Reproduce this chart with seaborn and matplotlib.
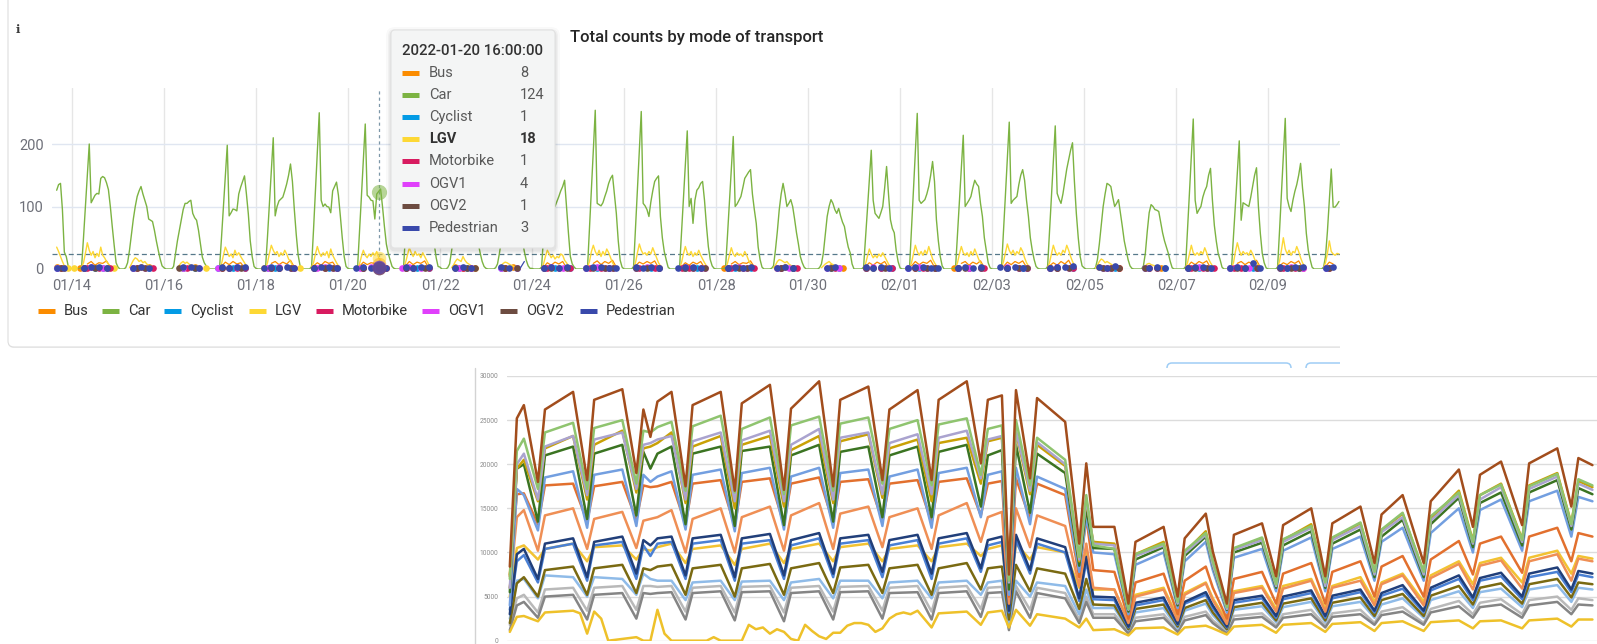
import numpy as np
import pandas as pd
import matplotlib
matplotlib.use("Agg")
import matplotlib.pyplot as plt
import matplotlib.dates as mdates
from matplotlib.patches import FancyBboxPatch, Rectangle
import seaborn as sns

na = None

# ---------------- top chart: hourly counts per mode ----------------
modes = ["Bus", "Car", "Cyclist", "LGV", "Motorbike", "OGV1", "OGV2", "Pedestrian"]
mode_colors = ["#fb8c00", "#7cb342", "#039be5", "#fdd835", "#d81b60", "#e040fb", "#6d4c41", "#3949ab"]

first_day = "2022-01-13"
n_days = 29
hover_time = "2022-01-20 16:00"
hover_values = [8, 124, 1, 18, 1, 4, 1, 3]
avg_line = 24

# Car, one row of 24 hourly values per day (01/13 .. 02/10)
car_by_day = [
    [na] * 16 + [126, 135, 137, 95, 27, 20, 5, 1],
    [0, 0, 0, 0, 0, 3, 50, 100, 150, 200, 106, 112, 118, 121, 120, 145, 148, 146, 138, 127, 100, 68, 38, 10],
    [3, 0, 0, 0, 2, 10, 30, 55, 80, 100, 116, 125, 132, 120, 110, 100, 80, 78, 76, 62, 45, 30, 16, 5],
    [2, 0, 0, 0, 0, 4, 25, 45, 62, 80, 95, 105, 105, 108, 110, 89, 82, 78, 62, 40, 19, 10, 5, 1],
    [0, 0, 0, 0, 0, 3, 50, 100, 150, 198, 85, 90, 96, 95, 93, 120, 131, 140, 149, 120, 88, 45, 20, 4],
    [1, 0, 0, 0, 0, 3, 52, 105, 158, 210, 85, 100, 109, 112, 115, 125, 136, 150, 168, 140, 95, 55, 22, 5],
    [1, 0, 0, 0, 0, 4, 62, 125, 188, 250, 110, 100, 104, 100, 99, 90, 125, 132, 139, 118, 85, 50, 20, 4],
    [1, 0, 0, 0, 0, 3, 58, 116, 175, 232, 118, 115, 110, 109, 80, 120, 124, 128, 100, 68, 40, 25, 14, 4],
    [1, 0, 0, 0, 0, 3, 55, 110, 165, 220, 112, 108, 110, 115, 120, 135, 145, 150, 140, 110, 75, 40, 18, 4],
    [3, 0, 0, 0, 2, 8, 28, 50, 75, 95, 110, 120, 118, 112, 105, 98, 88, 80, 70, 55, 40, 25, 12, 4],
    [1, 0, 0, 0, 0, 2, 8, 25, 45, 65, 80, 92, 98, 100, 95, 88, 80, 72, 60, 45, 28, 14, 5, 1],
    [1, 0, 0, 0, 0, 3, 50, 100, 150, 200, 105, 100, 100, 108, 116, 125, 132, 142, 100, 58, 20, 8, 3, 0],
    [0, 0, 0, 0, 0, 4, 65, 128, 190, 254, 105, 103, 101, 106, 116, 125, 137, 145, 150, 120, 89, 45, 14, 3],
    [0, 0, 0, 0, 0, 4, 64, 127, 190, 252, 105, 101, 95, 84, 107, 125, 140, 145, 149, 84, 50, 28, 15, 3],
    [0, 0, 0, 0, 0, 3, 56, 112, 168, 221, 100, 113, 73, 110, 126, 130, 137, 140, 110, 70, 36, 15, 5, 1],
    [0, 0, 0, 0, 0, 3, 54, 108, 160, 212, 100, 104, 110, 116, 130, 145, 150, 155, 159, 120, 95, 73, 35, 15],
    [3, 0, 0, 0, 0, 1, 5, 30, 60, 95, 120, 137, 120, 100, 105, 111, 100, 80, 58, 40, 20, 10, 3, 0],
    [0, 0, 0, 0, 0, 0, 2, 8, 25, 55, 84, 100, 111, 105, 95, 89, 97, 85, 75, 68, 50, 35, 26, 8],
    [0, 0, 0, 0, 0, 3, 48, 95, 143, 190, 110, 89, 85, 81, 90, 100, 130, 164, 120, 79, 65, 58, 30, 12],
    [2, 0, 0, 0, 0, 4, 63, 125, 187, 249, 110, 105, 108, 111, 120, 132, 150, 172, 140, 79, 45, 20, 5, 0],
    [0, 0, 0, 0, 0, 3, 55, 108, 160, 214, 100, 105, 110, 116, 130, 142, 136, 132, 105, 84, 50, 30, 10, 2],
    [0, 0, 0, 0, 0, 4, 60, 118, 176, 235, 105, 110, 113, 116, 135, 150, 159, 142, 110, 84, 50, 30, 15, 4],
    [1, 0, 0, 0, 0, 4, 58, 115, 172, 229, 121, 112, 105, 120, 140, 160, 175, 190, 202, 140, 89, 50, 20, 5],
    [2, 0, 0, 0, 0, 0, 2, 15, 40, 70, 100, 120, 137, 135, 132, 115, 100, 105, 111, 90, 68, 45, 30, 15],
    [5, 1, 0, 0, 0, 0, 0, 5, 25, 60, 90, 103, 100, 95, 94, 92, 75, 58, 45, 35, 25, 12, 2, 0],
    [0, 0, 0, 0, 0, 4, 61, 121, 180, 240, 110, 89, 95, 100, 115, 125, 132, 150, 161, 110, 70, 45, 25, 15],
    [3, 0, 0, 0, 0, 3, 52, 103, 154, 205, 78, 106, 104, 102, 100, 115, 132, 150, 162, 100, 57, 25, 10, 2],
    [0, 0, 0, 0, 0, 3, 60, 121, 181, 241, 113, 100, 92, 110, 124, 135, 150, 169, 130, 100, 57, 30, 15, 3],
    [0, 0, 0, 0, 0, 3, 20, 60, 110, 160, 99, 99, 103, 108] + [na] * 10,
]

lgv_by_day = [
    [na] * 16 + [35, 28, 20, 12, 5, na, 1, na],
    [na, 1, na, na, na, 3, 10, 25, 42, 30, 22, 28, 18, 25, 20, 35, 22, 18, 12, 8, 4, na, 1, na],
    [na, na, na, na, na, na, 2, 8, 14, 18, 16, 12, 14, 10, 12, 8, 6, 4, 2, na, na, na, na, na],
    [na, na, na, na, na, na, na, 2, 6, 10, 12, 9, 11, 8, 6, 4, 2, na, na, na, na, na, 1, na],
    [na, na, na, na, na, 2, 8, 22, 35, 28, 20, 24, 18, 30, 22, 26, 20, 15, 10, 5, 2, na, na, na],
    [na, na, na, na, na, 2, 10, 25, 38, 30, 24, 28, 20, 26, 22, 30, 24, 16, 12, 6, 2, na, na, 1],
    [na, na, na, na, na, 3, 10, 24, 36, 26, 20, 26, 22, 28, 18, 32, 22, 16, 10, 5, 2, na, na, na],
    [na, na, na, na, na, 2, 8, 20, 30, 22, 18, 24, 20, 26, 22, 28, 18, 14, 10, 5, 2, na, na, na],
    [na, na, na, na, na, 2, 10, 22, 34, 26, 20, 28, 22, 24, 18, 26, 20, 14, 8, 4, na, na, na, na],
    [na, na, na, na, na, na, 2, 6, 12, 16, 14, 12, 20, 14, 10, 8, 6, 4, 2, na, na, na, na, na],
    [na, na, na, na, na, na, na, 2, 6, 9, 11, 10, 8, 6, 5, 3, 2, na, na, na, na, na, na, na],
    [na, na, na, na, na, 2, 8, 20, 30, 24, 18, 22, 16, 20, 18, 24, 22, 14, 10, 5, 2, na, na, na],
    [na, na, na, na, na, 3, 12, 28, 38, 28, 22, 30, 20, 28, 22, 32, 26, 18, 10, 5, 2, na, na, na],
    [na, na, na, na, na, 3, 10, 26, 40, 30, 24, 26, 22, 28, 24, 34, 26, 18, 10, 5, 2, na, na, na],
    [na, na, na, na, na, 2, 10, 24, 36, 26, 22, 28, 20, 26, 22, 30, 22, 16, 10, 5, 2, na, na, na],
    [na, na, na, na, na, 2, 9, 22, 34, 24, 20, 26, 22, 24, 20, 28, 22, 14, 8, 4, na, na, na, na],
    [na, na, na, na, na, na, 2, 6, 12, 15, 14, 12, 10, 12, 8, 6, 4, 2, na, na, na, na, na, na],
    [na, na, na, na, na, na, na, 2, 5, 8, 10, 12, 9, 7, 5, 3, na, na, na, na, na, na, na, na],
    [na, na, na, na, na, 2, 8, 20, 32, 24, 18, 22, 18, 24, 20, 26, 20, 14, 8, 4, na, na, na, na],
    [na, na, na, na, na, 3, 10, 24, 38, 28, 22, 28, 22, 30, 24, 36, 26, 16, 10, 5, 2, na, na, na],
    [na, na, na, na, na, 2, 10, 24, 36, 26, 22, 26, 20, 28, 22, 32, 24, 16, 10, 5, 2, na, na, na],
    [na, na, na, na, na, 3, 12, 26, 40, 30, 24, 30, 22, 28, 24, 34, 28, 18, 10, 5, 2, na, na, na],
    [na, na, na, na, na, 2, 10, 24, 38, 28, 22, 26, 22, 30, 26, 38, 30, 20, 12, 6, 2, na, na, na],
    [na, na, na, na, na, na, 2, 6, 12, 16, 14, 10, 12, 10, 8, 6, 4, 2, na, na, na, na, na, na],
    [na, na, na, na, na, na, na, 2, 5, 8, 9, 7, 6, 5, 3, 2, na, na, na, na, na, na, na, na],
    [na, na, na, na, na, 2, 10, 24, 38, 26, 22, 26, 22, 28, 24, 34, 26, 16, 10, 5, 2, na, na, na],
    [na, na, na, na, na, 3, 10, 28, 42, 30, 22, 28, 24, 26, 22, 30, 24, 16, 10, 5, na, na, na, na],
    [na, na, na, na, na, 3, 12, 30, 50, 32, 24, 30, 22, 28, 26, 36, 28, 18, 10, 5, 2, na, na, na],
    [na, na, na, na, na, 2, 10, 25, 45, 28, 24, 22, 25, 24] + [na] * 10,
]

# sparse modes, 2-hourly, one 12-char block per day ('.' = no data, base-36 digit = count)
bus_2h = ["........4.1.", "..1.8c6a9d3.", "....2.4.3...", ".....2..3...", "...4b7c8a2..",
          "..1.9c7b8e3.", "...5a6c9b2..", "...4b7a98.1.", "...5c7b9d2..", "....3.2..1..",
          ".....2.3....", "...3a6b8c2..", "..1.9d7c9e3.", "...5b8c9d2..", "...4a6b8c2..",
          "..1.8c7a9d3.", "....2.3.2...", "......3..2..", "...4a6b8c2..", "...5c7b9e3..",
          "..1.9c6b8d2.", "...4b7c9d3..", "...5a6c8e2..", "....3..2.1..", ".....2..2...",
          "...4b7c9d2..", "..1.9c7b8e3.", "...5a7c9d2..", "...4b8......"]
cyclist_2h = ["........1...", "...1..2.1...", "....1...1...", ".....1..2...", "..1...1..1..",
              "...1.2...1..", "...1...2.1..", "....1...1...", "...2..1..1..", ".....1.1....",
              "....1...1...", "...1..2...1.", "..1..1..2...", "...1...1.1..", "....2..1....",
              "...1.1...2..", ".....1..1...", "......1.1...", "...1...2..1.", "..1..2...1..",
              "...1..1..1..", "....1...2...", "...1.1...1..", ".....1..1...", "....1....1..",
              "...2..1..1..", "..1...1.2...", "...1.2..1...", "...1........"]
motorbike_2h = [".........1..", "....1..1..1.", ".....1...1..", "......1.....", "...1...1.1..",
                "....1.1...1.", "...1..1..1..", "....1...1.1.", "...1.1...1..", "......1.1...",
                ".....1......", "....1..1..1.", "...1..1.1...", "....1...1...", "...1.1..1...",
                "....1..1..1.", ".....1...1..", ".......1....", "...1...1..1.", "....1.1..1..",
                "...1..1...1.", "....1..1.1..", "...1.1...1..", "......1..1..", ".....1......",
                "....1..1..1.", "...1.1...1..", "....1..1.1..", "....1......."]
ogv1_2h = ["........2...", "...1.3..2...", "....1..1....", ".....1...1..", "..1..2.3....",
           "...2..3..1..", "....2.3.1...", "...2..3.4...", "..1.3..2....", ".....1..1...",
           "....1...1...", "...2.3..2...", "..1..3.2.1..", "...2..3..1..", "....3.2..1..",
           "...2..3.1...", "....1..1....", ".....1..1...", "...2.3...1..", "..1..3.2....",
           "...2..2..1..", "....3..2.1..", "...2.3..1...", ".....1.1....", "....1..1....",
           "...2..3.2...", "..1.3..2.1..", "...2..3..1..", "...1........"]
ogv2_2h = [".........1..", "...1..2..1..", ".....1.1....", "....1...1...", "...2.1..1...",
           "....1.2..1..", "...1..1.2...", "....2...1...", "...1.2..1...", "....1..1.1..",
           ".....1..1...", "...1.2...1..", "....2..1.1..", "...1..2..1..", "....1.1..1..",
           "...2..1.1...", ".....1..1...", "......1.....", "...1.2..1...", "....1..2.1..",
           "...1.1...1..", "....2..1.1..", "...1.2..1...", ".....1.1.1..", "....1..1....",
           "...1.2..1...", "....1.2..1..", "...2..1.1...", "....1......."]
pedestrian_2h = ["........2.1.", "...2.3.4.2..", "....2.3.2...", ".....3.4.2..", "...3.2.4.3..",
                 "..2.3.2.4.2.", "...2.4.3.2..", "..2.3.2.3.2.", "...3.2.4.3..", "....2.3.2...",
                 "....3.2..2c.", "...2.3.2.4..", "..2.4.3.2.2.", "...3.2.4.2..", "..2.3.3.2...",
                 "...2.4.2.3..", "....2.3.2...", ".....2.3....", "...3.2.3.2..", "..2.3.4.2.2.",
                 "...2.3.2.3..", "..3.2.4.2...", "...2.4.3.5..", "....3.2.5...", ".....2.3.2..",
                 "...2.3.4.2..", "..2.3.2.a.2.", "...3.2.4.3..", "...2.3......"]

# ---------------- lower (pasted) chart: daily totals, hundreds ----------------
low_days = [0, 1, 2, 4, 5, 9, 11, 12, 16, 18, 19, 20, 21, 23, 25, 26, 30, 32, 33, 37,
            39, 40, 44, 46, 47, 51, 53, 54, 58, 60, 61, 65, 67, 68, 70, 71, 72, 74, 75, 79,
            81, 82, 83, 86, 88, 89, 93, 95, 96, 99, 100, 102, 103, 107, 109, 110, 114, 116, 117, 121,
            123, 124, 127, 130, 131, 135, 137, 138, 141, 144, 145, 149, 151, 152, 154]
brown = [84, 252, 267, 180, 262, 282, 182, 273, 285, 190, 262, 231, 271, 282, 175, 267, 282, 170, 269, 290,
         171, 263, 294, 175, 273, 288, 182, 262, 284, 182, 273, 294, 201, 273, 278, 75, 284, 184, 275, 248,
         110, 201, 129, 129, 42, 112, 129, 50, 116, 144, 101, 42, 120, 133, 73, 131, 150, 73, 133, 152,
         88, 143, 165, 88, 158, 194, 129, 188, 203, 131, 201, 218, 152, 207, 199]
lightgreen = [70, 215, 229, 172, 236, 247, 172, 241, 250, 178, 238, 236, 242, 248, 170, 243, 255, 168, 240, 253,
              166, 244, 254, 170, 246, 253, 178, 240, 250, 176, 245, 252, 188, 240, 244, 68, 250, 176, 230, 205,
              95, 165, 108, 104, 36, 98, 110, 44, 102, 122, 90, 38, 105, 117, 64, 115, 130, 66, 117, 134,
              78, 126, 145, 78, 141, 168, 112, 165, 177, 114, 175, 189, 132, 183, 176]
lavender = [60, 200, 212, 160, 220, 232, 165, 228, 236, 172, 222, 224, 228, 232, 160, 226, 236, 158, 227, 238,
            158, 222, 240, 160, 230, 236, 166, 224, 234, 166, 230, 238, 184, 228, 232, 66, 238, 170, 225, 200,
            92, 160, 110, 108, 35, 96, 108, 42, 99, 120, 86, 36, 103, 114, 62, 112, 128, 62, 114, 130,
            75, 123, 140, 75, 136, 165, 110, 160, 174, 112, 172, 186, 130, 178, 171]
gold = [75, 195, 205, 158, 218, 232, 160, 222, 238, 168, 218, 220, 224, 236, 156, 220, 232, 150, 222, 232,
        152, 216, 232, 156, 226, 234, 162, 218, 228, 158, 224, 230, 178, 226, 230, 70, 236, 166, 222, 198,
        90, 158, 112, 110, 36, 98, 112, 44, 100, 124, 88, 37, 104, 116, 64, 114, 132, 64, 116, 133,
        77, 125, 144, 77, 138, 170, 113, 165, 178, 115, 176, 190, 133, 181, 174]
darkgreen = [55, 195, 200, 135, 210, 220, 138, 212, 222, 142, 214, 195, 212, 220, 132, 212, 220, 130, 215, 220,
             131, 210, 222, 135, 214, 220, 140, 210, 220, 140, 214, 222, 152, 210, 216, 58, 222, 145, 212, 190,
             85, 150, 105, 104, 33, 92, 106, 40, 96, 118, 85, 35, 100, 111, 60, 108, 124, 60, 110, 126,
             72, 118, 137, 72, 132, 162, 106, 156, 168, 108, 168, 182, 126, 173, 166]
cornflower = [40, 172, 165, 125, 185, 192, 128, 188, 194, 130, 188, 180, 186, 192, 126, 188, 194, 124, 190, 196,
              126, 186, 196, 128, 190, 194, 130, 186, 194, 128, 190, 196, 140, 188, 192, 52, 196, 132, 186, 172,
              78, 140, 100, 98, 30, 86, 100, 37, 90, 112, 80, 32, 94, 104, 56, 102, 117, 56, 104, 118,
              68, 112, 128, 68, 122, 150, 100, 148, 160, 102, 158, 170, 118, 163, 158]
orangered = [73, 166, 167, 132, 176, 178, 135, 175, 180, 137, 176, 174, 175, 180, 132, 178, 182, 130, 180, 184,
             132, 178, 185, 134, 180, 183, 136, 178, 182, 134, 180, 184, 142, 178, 181, 50, 184, 138, 178, 165,
             72, 140, 80, 78, 25, 66, 76, 30, 68, 84, 60, 25, 70, 78, 42, 76, 88, 42, 78, 90,
             50, 84, 96, 50, 92, 113, 75, 110, 118, 77, 118, 128, 90, 122, 118]
orange = [60, 140, 148, 102, 142, 150, 104, 138, 146, 105, 136, 138, 140, 148, 100, 138, 150, 100, 140, 152,
          102, 142, 156, 104, 144, 152, 106, 140, 150, 104, 142, 156, 112, 140, 146, 42, 150, 106, 142, 130,
          62, 110, 60, 58, 20, 50, 58, 23, 52, 65, 46, 19, 54, 60, 33, 59, 68, 33, 60, 68,
          40, 64, 74, 40, 71, 87, 58, 85, 91, 59, 90, 98, 68, 93, 90]
navy = [30, 98, 104, 70, 110, 116, 72, 112, 118, 76, 114, 108, 116, 118, 74, 116, 120, 72, 116, 121,
        74, 114, 122, 76, 116, 120, 78, 114, 120, 76, 116, 122, 82, 114, 118, 34, 120, 80, 116, 106,
        48, 95, 50, 49, 16, 43, 49, 19, 44, 55, 40, 16, 46, 51, 28, 50, 57, 28, 51, 58,
        34, 54, 63, 34, 60, 74, 49, 71, 77, 50, 76, 83, 58, 79, 76]
blue = [35, 90, 97, 66, 104, 110, 68, 108, 112, 70, 108, 96, 110, 112, 70, 110, 114, 68, 110, 114,
        70, 108, 116, 72, 110, 114, 72, 108, 114, 70, 110, 116, 78, 108, 112, 32, 114, 76, 110, 100,
        45, 90, 47, 46, 15, 40, 46, 18, 42, 52, 37, 15, 43, 48, 26, 47, 54, 26, 48, 55,
        32, 51, 59, 32, 57, 70, 46, 68, 73, 47, 72, 78, 55, 75, 72]
yellow = [50, 105, 108, 92, 104, 110, 90, 106, 108, 92, 104, 102, 106, 110, 88, 104, 108, 86, 104, 110,
          88, 104, 110, 90, 106, 110, 90, 104, 108, 90, 106, 110, 96, 104, 108, 40, 110, 92, 106, 100,
          60, 100, 58, 58, 22, 52, 60, 26, 54, 66, 48, 22, 56, 62, 36, 62, 70, 36, 62, 72,
          44, 66, 76, 44, 74, 90, 64, 88, 94, 66, 94, 102, 76, 96, 93]
olive = [20, 65, 72, 50, 80, 84, 52, 82, 86, 54, 82, 80, 84, 86, 52, 82, 86, 50, 82, 87,
         52, 82, 88, 54, 83, 86, 54, 82, 86, 52, 82, 88, 58, 82, 84, 24, 86, 56, 82, 76,
         36, 70, 41, 40, 13, 36, 41, 16, 37, 46, 32, 13, 38, 43, 23, 42, 48, 23, 43, 49,
         28, 46, 53, 28, 51, 62, 41, 60, 65, 42, 64, 70, 49, 66, 64]
lightblue = [25, 68, 70, 48, 74, 72, 50, 72, 70, 52, 76, 70, 68, 68, 46, 66, 68, 46, 67, 68,
             46, 66, 70, 48, 68, 68, 48, 66, 68, 48, 66, 68, 52, 66, 68, 20, 68, 50, 66, 62,
             30, 58, 37, 37, 12, 32, 37, 14, 34, 42, 29, 12, 35, 39, 21, 38, 44, 21, 39, 44,
             26, 41, 48, 26, 46, 56, 37, 55, 59, 38, 58, 63, 44, 60, 58]
grey = [12, 40, 44, 26, 50, 52, 24, 52, 54, 25, 54, 53, 54, 55, 24, 54, 56, 23, 55, 56,
        22, 54, 56, 24, 55, 56, 25, 54, 55, 24, 54, 56, 27, 54, 55, 12, 56, 26, 54, 48,
        20, 44, 26, 26, 8, 22, 26, 10, 23, 29, 20, 8, 24, 27, 15, 26, 30, 15, 27, 30,
        18, 29, 33, 18, 32, 39, 26, 38, 41, 26, 40, 44, 30, 41, 40]
lightgrey = [18, 48, 52, 32, 58, 60, 34, 60, 62, 35, 62, 62, 61, 62, 33, 60, 62, 32, 61, 62,
             32, 60, 62, 33, 61, 62, 34, 60, 62, 33, 60, 62, 36, 60, 61, 16, 62, 35, 60, 54,
             24, 50, 30, 30, 10, 26, 30, 11, 27, 33, 23, 10, 28, 31, 17, 30, 35, 17, 31, 35,
             20, 33, 38, 20, 36, 45, 30, 43, 47, 30, 46, 50, 35, 48, 46]
low_yellow_days = [0, 1, 2, 4, 5, 9, 10, 11, 12, 13, 14, 18, 19, 20, 21, 22, 23, 28, 29, 30,
                   33, 34, 35, 36, 37, 38, 39, 40, 41, 42, 43, 44, 45, 46, 47, 48, 49, 50, 51, 52,
                   53, 54, 55, 56, 57, 58, 60, 61, 65, 67, 68, 70, 71, 72, 74, 75, 79, 81, 82, 83,
                   86, 88, 89, 93, 95, 96, 99, 100, 102, 103, 107, 109, 110, 114, 116, 117, 121, 123, 124, 127,
                   130, 131, 135, 137, 138, 141, 144, 145, 149, 151, 152, 154]
low_yellow = [10, 27, 28, 22, 32, 34, 31, 8, 33, 25, 0, 4, 0, 0, 35, 8, 0, 0, 4, 0,
              0, 18, 13, 15, 8, 13, 10, 2, 0, 18, 11, 5, 2, 9, 9, 17, 20, 20, 18, 10,
              14, 25, 30, 32, 30, 34, 15, 31, 33, 18, 32, 34, 15, 35, 17, 30, 25, 15, 25, 12,
              13, 6, 14, 15, 7, 15, 17, 14, 7, 16, 18, 9, 18, 20, 10, 19, 21, 11, 20, 22,
              11, 21, 23, 14, 22, 23, 14, 23, 25, 16, 24, 24]

# ---------------- figure ----------------
W, H = 1597, 644
sns.set_style("white")
plt.rcParams["font.family"] = ["Roboto", "DejaVu Sans"]
fig = plt.figure(figsize=(W / 100, H / 100), dpi=100)


def px_axes(left, top, right, bottom, z):
    return fig.add_axes([left / W, 1 - bottom / H, (right - left) / W, (bottom - top) / H], zorder=z)


def fit(row, n):
    row = list(row)[:n]
    return row + [na] * (n - len(row))


def decode(blocks):
    out = []
    for b in blocks:
        b = b.ljust(12, ".")[:12]
        out += [np.nan if ch == "." else int(ch, 36) for ch in b]
    return np.array(out, dtype=float)


hours = pd.date_range(first_day, periods=n_days * 24, freq="h")
two_hours = pd.date_range(first_day, periods=n_days * 12, freq="2h")
t_h = mdates.date2num(hours.to_pydatetime())
t_2h = mdates.date2num(two_hours.to_pydatetime())
car = np.array(sum([fit(r, 24) for r in car_by_day], []), dtype=float)
lgv = np.array(sum([fit(r, 24) for r in lgv_by_day], []), dtype=float)

# background page: card, title, legend, buttons
bg = px_axes(0, 0, W, H, 0)
bg.set_xlim(0, W)
bg.set_ylim(H, 0)
bg.axis("off")
bg.add_patch(FancyBboxPatch((8, -20), 1420, 368, boxstyle="round,pad=0,rounding_size=6",
                            fc="#eeeeee", ec="none"))
bg.add_patch(FancyBboxPatch((8, -20), 1420, 367, boxstyle="round,pad=0,rounding_size=6",
                            fc="white", ec="#dedede", lw=0.8))
bg.text(697, 37, "Total counts by mode of transport", ha="center", va="center",
        fontsize=12, fontweight="medium", color="#262626")
bg.text(18, 29, "ℹ", ha="center", va="center", fontsize=8.5, fontweight="bold",
        family=["DejaVu Serif", "DejaVu Sans"], color="#3a3a3a")
leg_x = [38, 102, 164, 249, 316, 422, 500, 580]
for name, col, x0 in zip(modes, mode_colors, leg_x):
    bg.plot([x0, x0 + 17], [311, 311], color=col, lw=3.6, solid_capstyle="butt")
    bg.text(x0 + 26, 311, name, ha="left", va="center", fontsize=10.5, color="#333333")
bg.add_patch(FancyBboxPatch((1167, 363), 124, 30, boxstyle="round,pad=0,rounding_size=5",
                            fc="none", ec="#9fcdf5", lw=1.1))
bg.add_patch(FancyBboxPatch((1306, 363), 80, 30, boxstyle="round,pad=0,rounding_size=5",
                            fc="none", ec="#9fcdf5", lw=1.1))
bg.set_xlim(0, W)
bg.set_ylim(H, 0)

# top time-series chart
ax = px_axes(52, 88, 1340, 269, 1)
ax.patch.set_alpha(0)
day0 = mdates.date2num(pd.Timestamp("2022-01-14").to_pydatetime())
ax.set_xlim(day0 - 20 / 46, day0 + 1268 / 46)
ax.set_ylim(0, 181 / 0.625)

small = {"Bus": decode(bus_2h), "Cyclist": decode(cyclist_2h), "Motorbike": decode(motorbike_2h),
         "OGV1": decode(ogv1_2h), "OGV2": decode(ogv2_2h), "Pedestrian": decode(pedestrian_2h)}


def gappy(t, v, color, lw, z):
    ax.plot(t, v, color=color, lw=lw, zorder=z, solid_joinstyle="round")
    prev = np.r_[np.nan, v[:-1]]
    nxt = np.r_[v[1:], np.nan]
    iso = ~np.isnan(v) & np.isnan(prev) & np.isnan(nxt)
    ax.scatter(t[iso], v[iso], s=23, color=color, linewidths=0, zorder=z + 0.5, clip_on=False)


for i, (name, col) in enumerate(zip(modes, mode_colors)):
    z = 3 + i
    if name == "Car":
        ok = ~np.isnan(car)
        sns.lineplot(x=t_h[ok], y=car[ok], color=col, lw=1.0, ax=ax, zorder=z, estimator=None)
    elif name == "LGV":
        gappy(t_h, lgv, col, 1.0, z)
    else:
        gappy(t_2h, small[name], col, 0.9, z)

t_hover = mdates.date2num(pd.Timestamp(hover_time).to_pydatetime())
ax.axhline(avg_line, color="#56788a", lw=0.9, ls=(0, (4, 2.5)), zorder=2)
ax.axvline(t_hover, color="#7d97a8", lw=0.9, ls=(0, (2.5, 2.5)), zorder=2)
for name, col, val in zip(modes, mode_colors, hover_values):
    ax.scatter([t_hover], [val], s=120 if name == "Car" else 95, color=col, alpha=0.55,
               linewidths=0, zorder=20, clip_on=False)

ticks = pd.date_range("2022-01-14", "2022-02-09", freq="2D")
ax.set_xticks(mdates.date2num(ticks.to_pydatetime()))
ax.xaxis.set_major_formatter(mdates.DateFormatter("%m/%d"))
ax.set_yticks([0, 100, 200])
ax.grid(axis="y", color="#e0e6f1", lw=1)
ax.grid(axis="x", color="#e6e6e6", lw=1)
ax.set_axisbelow(True)
ax.tick_params(axis="x", length=0, pad=7, labelsize=10.5, labelcolor="#6e7079")
ax.tick_params(axis="y", length=0, pad=6, labelsize=10.5, labelcolor="#6e7079")
ax.set_xlabel("")
ax.set_ylabel("")
for s in ax.spines.values():
    s.set_visible(False)

# overlay: tooltip, page cut-off and the pasted image frame
ov = px_axes(0, 0, W, H, 2)
ov.set_xlim(0, W)
ov.set_ylim(H, 0)
ov.axis("off")
for k, a in [(5, 0.025), (3, 0.035), (1.5, 0.05)]:
    ov.add_patch(FancyBboxPatch((391 - k, 30 - k + 2), 164 + 2 * k, 218 + 2 * k,
                                boxstyle="round,pad=0,rounding_size=%g" % (4 + k), fc="black",
                                alpha=a, ec="none"))
ov.add_patch(FancyBboxPatch((391, 30), 164, 218, boxstyle="round,pad=0,rounding_size=4",
                            fc="#f4f5f5", ec="#e2e2e2", lw=0.8))
ov.text(402, 51, "2022-01-20 16:00:00", ha="left", va="center", fontsize=10.8,
        fontweight="medium", color="#333333")
for i, (name, col, val) in enumerate(zip(modes, mode_colors, hover_values)):
    y = 73 + 22.1 * i
    bold = name == "LGV"
    ov.plot([402, 419], [y, y], color=col, lw=3.6, solid_capstyle="butt")
    ov.text(429, y, name, ha="left", va="center", fontsize=10.5,
            fontweight="bold" if bold else "normal", color="#333333" if bold else "#595959")
    ov.text(520, y, str(val), ha="left", va="center", fontsize=10.5,
            fontweight="bold" if bold else "normal", color="#333333" if bold else "#595959")
ov.add_patch(Rectangle((1340, 0), W - 1340, 368, fc="white", ec="none"))
ov.add_patch(Rectangle((475, 368), W - 475, H - 368, fc="white", ec="none"))
ov.plot([475, 475], [368, H], color="#d3d3d3", lw=1)
ov.set_xlim(0, W)
ov.set_ylim(H, 0)

# lower chart (pasted spreadsheet screenshot)
low = px_axes(507, 376, W, 640.7, 3)
low.patch.set_alpha(0)
low_lines = [
    ("lightgrey", "#b9b9b9", low_days, lightgrey),
    ("grey", "#858585", low_days, grey),
    ("lightblue", "#8fbbe8", low_days, lightblue),
    ("olive", "#7a6a12", low_days, olive),
    ("yellow", "#f2c232", low_days, yellow),
    ("blue", "#4a80d4", low_days, blue),
    ("navy", "#213f7a", low_days, navy),
    ("orange", "#ef8f55", low_days, orange),
    ("orangered", "#e2702e", low_days, orangered),
    ("cornflower", "#739fe0", low_days, cornflower),
    ("darkgreen", "#3b7422", low_days, darkgreen),
    ("gold", "#c9a106", low_days, gold),
    ("lavender", "#aaa3cf", low_days, lavender),
    ("lightgreen", "#8fc46f", low_days, lightgreen),
    ("lowyellow", "#eec12a", low_yellow_days, low_yellow),
    ("brown", "#a24d1c", low_days, brown),
]
frames = [pd.DataFrame({"day": d, "count": np.array(v, dtype=float) * 100, "line": n})
          for n, c, d, v in low_lines]
low_df = pd.concat(frames, ignore_index=True)
sns.lineplot(data=low_df, x="day", y="count", hue="line",
             hue_order=[n for n, c, d, v in low_lines],
             palette={n: c for n, c, d, v in low_lines},
             estimator=None, sort=False, lw=1.8, legend=False, ax=low)
low.set_xlim(-0.4, 154.65)
low.set_ylim(0, 30000)
low.set_yticks(range(0, 30001, 5000))
low.set_xticks([])
low.grid(axis="y", color="#dcdcdc", lw=1)
low.set_axisbelow(True)
low.tick_params(axis="y", length=0, pad=6, labelsize=4.8, labelcolor="#8a8a8a")
low.set_xlabel("")
low.set_ylabel("")
for s in low.spines.values():
    s.set_visible(False)

fig.savefig("out.png", dpi=100)
